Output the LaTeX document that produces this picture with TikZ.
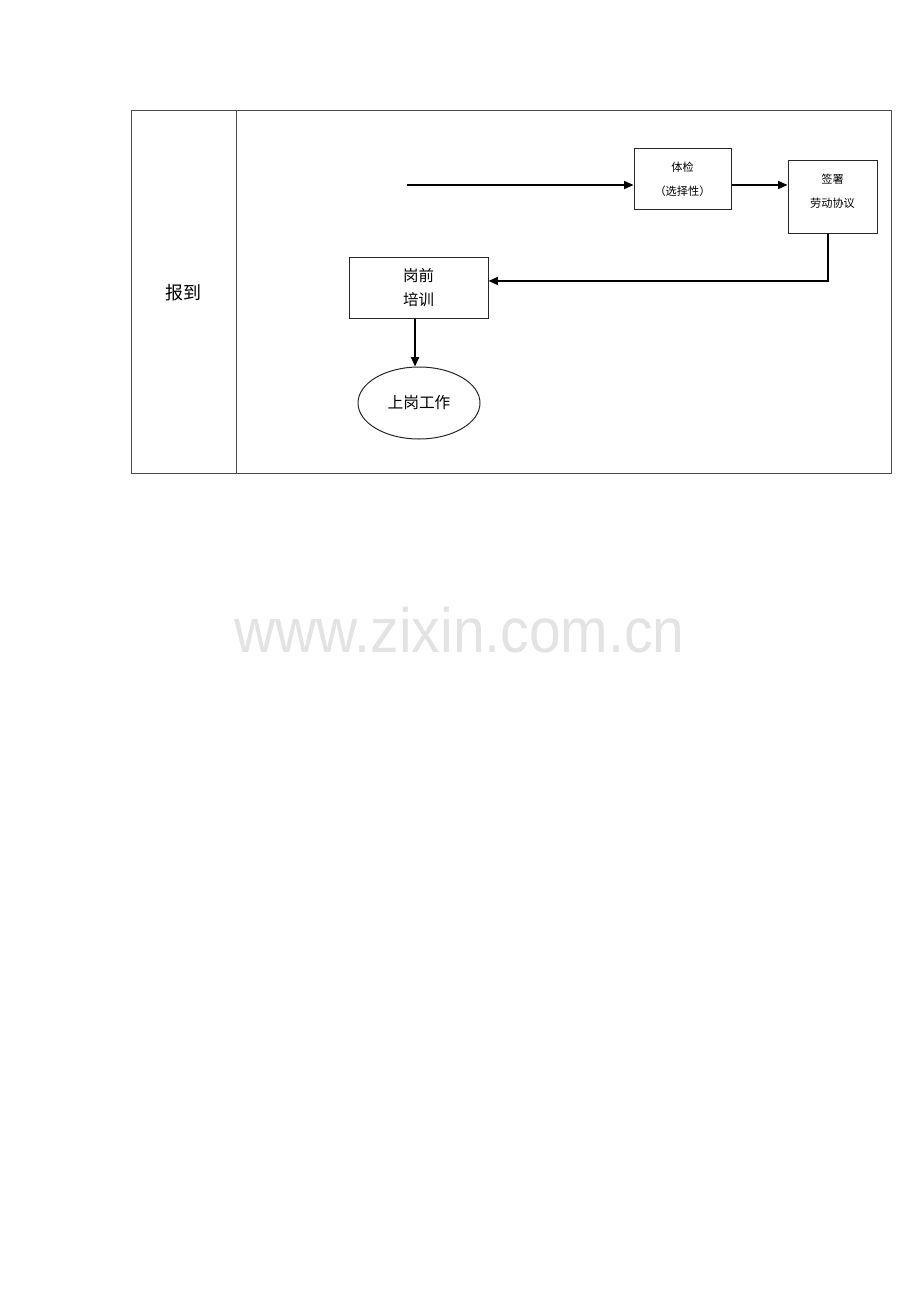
\documentclass[tikz,border=0pt]{standalone}
\usepackage{fontspec}
\setmainfont{Noto Sans CJK SC}
\newfontfamily\wmfont{Liberation Sans}
\usepackage{tikz}
\usetikzlibrary{arrows.meta,shapes.geometric}

\tikzset{
  frame/.style={draw=black!70,line width=0.75pt},
  stepbox/.style={draw=black!85,line width=0.75pt,rectangle,inner sep=0pt},
  smalltxt/.style={font=\fontsize{8.4}{18}\selectfont,align=center},
  bigtxt/.style={font=\fontsize{11.6}{18}\selectfont,align=center},
  arr/.style={line width=1.1pt,-{Triangle[length=7pt,width=6pt]}}
}

\begin{document}
\begin{tikzpicture}[x=0.75pt,y=-0.75pt]
    \useasboundingbox (0,0) rectangle (920,1302);
    \draw[frame] (131,111) rectangle (891,473);
    \draw[frame] (236,111) -- (236,473);
    \node[font=\fontsize{13.5}{16}\selectfont] (lane) at (183,293) {报到};

    \coordinate (start) at (407,185);
    \node[stepbox,minimum width=72.75pt,minimum height=45pt,smalltxt] (exam) at (682.5,179) {体检\\（选择性）};
    \node[stepbox,minimum width=66.75pt,minimum height=54pt] (sign) at (832.5,197) {};
    \node[smalltxt] (signtxt) at (832.5,191.5) {签署\\劳动协议};
    \node[stepbox,minimum width=104.25pt,minimum height=45.75pt,bigtxt] (train) at (418.5,287.5) {岗前\\培训};
    \node[draw=black!85,line width=0.75pt,ellipse,minimum width=91.5pt,minimum height=54pt,inner sep=0pt,
      font=\fontsize{11.8}{16}\selectfont] (work) at (419,403) {上岗工作};

    \draw[arr] (start) -- (start -| exam.west);
    \draw[arr] ([yshift=-4.5pt]exam.east) -- ([yshift=-4.5pt]exam.east -| sign.west);
    \draw[arr] ([xshift=-3.4pt]sign.south) |- ([yshift=4.9pt]train.east);
    \draw[arr] ([xshift=-2.6pt]train.south) -- ([xshift=-2.6pt]train.south |- work.north);

    \node[font=\wmfont\fontsize{47}{50}\selectfont,text=black!11,anchor=base,xscale=0.91,inner sep=0pt]
      (mark) at (459.5,652) {www.zixin.com.cn};
\end{tikzpicture}
\end{document}
